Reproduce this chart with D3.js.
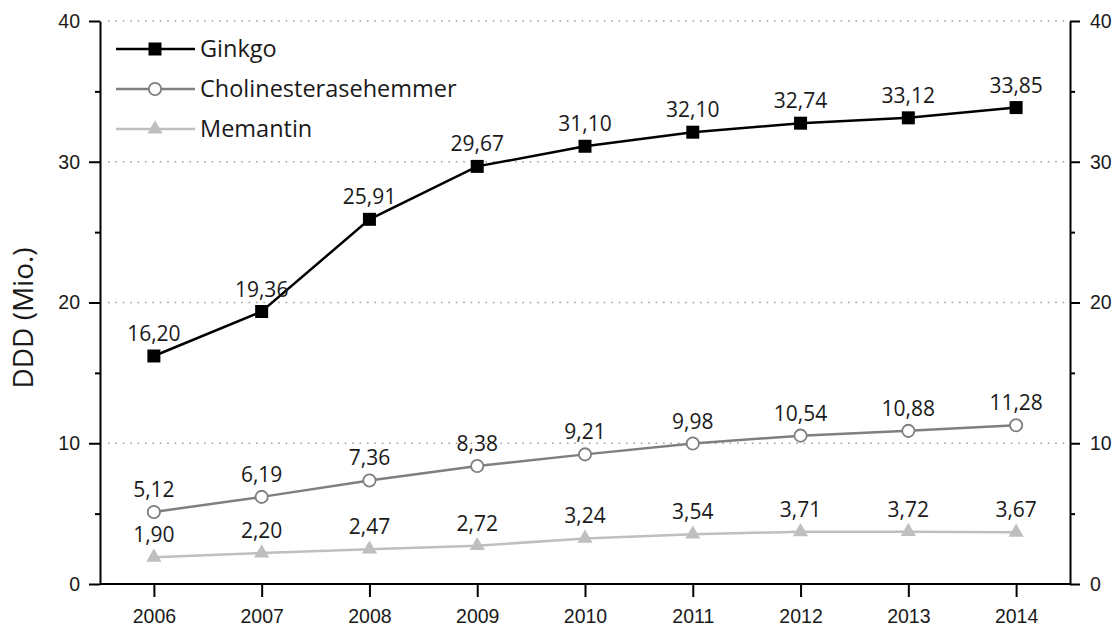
<!DOCTYPE html>
<html>
<head>
<meta charset="utf-8">
<script src="https://cdn.jsdelivr.net/npm/d3@7"></script>
<style>
  html, body { margin: 0; padding: 0; background: #fff; }
  svg { display: block; font-family: "Open Sans", Lato, sans-serif; }
</style>
</head>
<body>
<svg id="chart" width="1118" height="626"></svg>
<script>
// Daily defined doses (millions) per year
const years = ["2006", "2007", "2008", "2009", "2010", "2011", "2012", "2013", "2014"];
const ginkgo = [16.20, 19.36, 25.91, 29.67, 31.10, 32.10, 32.74, 33.12, 33.85];
const cholinesterase = [5.12, 6.19, 7.36, 8.38, 9.21, 9.98, 10.54, 10.88, 11.28];
const memantin = [1.90, 2.20, 2.47, 2.72, 3.24, 3.54, 3.71, 3.72, 3.67];
const majorTicks = [0, 10, 20, 30, 40];
const minorTicks = [5, 15, 25, 35];
const gridTicks = [10, 20, 30, 40];

const series = [
  { name: "Ginkgo", values: ginkgo, color: "#000000", marker: "square" },
  { name: "Cholinesterasehemmer", values: cholinesterase, color: "#7f7f7f", marker: "circle" },
  { name: "Memantin", values: memantin, color: "#bfbfbf", marker: "triangle" }
];

const svg = d3.select("#chart");
const plotLeft = 100, plotRight = 1070, plotTop = 21, plotBottom = 584;

const x = d3.scalePoint().domain(years).range([plotLeft, plotRight]).padding(0.5);
const y = d3.scaleLinear().domain([0, 40]).range([plotBottom, plotTop]);

const fmt = v => d3.format(".2f")(v).replace(".", ",");

// dotted grid lines
svg.append("g").selectAll("line").data(gridTicks).join("line")
  .attr("x1", plotLeft + 8).attr("x2", plotRight)
  .attr("y1", d => y(d)).attr("y2", d => y(d))
  .attr("stroke", "#a0a0a0").attr("stroke-width", 1.6)
  .attr("stroke-dasharray", "1.6,5.8");

// axes
function styleAxis(g) {
  g.select(".domain").attr("stroke", "#000").attr("stroke-width", 2);
  g.selectAll(".tick line").attr("stroke", "#000").attr("stroke-width", 2);
  g.selectAll(".tick text").attr("fill", "#1a1a1a").style("font-size", "19.5px");
}

svg.append("g").attr("transform", `translate(${plotLeft},0)`)
  .call(d3.axisLeft(y).tickValues(majorTicks).tickSize(11).tickSizeOuter(0).tickPadding(9))
  .call(styleAxis);
svg.append("g").attr("transform", `translate(${plotLeft},0)`)
  .call(d3.axisLeft(y).tickValues(minorTicks).tickSize(5).tickFormat("").tickSizeOuter(0))
  .call(g => g.select(".domain").remove())
  .call(g => g.selectAll(".tick line").attr("stroke", "#000").attr("stroke-width", 2));

svg.append("g").attr("transform", `translate(${plotRight},0)`)
  .call(d3.axisRight(y).tickValues(majorTicks).tickSize(10).tickSizeOuter(0).tickPadding(10))
  .call(styleAxis);
svg.append("g").attr("transform", `translate(${plotRight},0)`)
  .call(d3.axisRight(y).tickValues(minorTicks).tickSize(5).tickFormat("").tickSizeOuter(0))
  .call(g => g.select(".domain").remove())
  .call(g => g.selectAll(".tick line").attr("stroke", "#000").attr("stroke-width", 2));

const xAxis = svg.append("g").attr("transform", `translate(0,${plotBottom})`)
  .call(d3.axisBottom(x).tickSize(13).tickSizeOuter(0).tickPadding(12))
  .call(styleAxis);
xAxis.select(".domain").attr("d", `M${plotLeft},0H${plotRight}`);

// y axis title
svg.append("text")
  .attr("transform", `translate(33,318) rotate(-90)`)
  .attr("text-anchor", "middle")
  .attr("fill", "#1a1a1a")
  .style("font-size", "28px")
  .text("DDD (Mio.)");

const symbolFor = {
  square: d3.symbol().type(d3.symbolSquare).size(169),
  circle: d3.symbol().type(d3.symbolCircle).size(118),
  triangle: d3.symbol().type(d3.symbolTriangle).size(100)
};

function drawMarker(g, s) {
  const p = g.append("path").attr("d", symbolFor[s.marker]());
  if (s.marker === "circle") {
    p.attr("fill", "#fff").attr("stroke", s.color).attr("stroke-width", 1.8);
  } else {
    p.attr("fill", s.color);
  }
}

const line = d3.line().x((d, i) => x(years[i])).y(d => y(d));

series.forEach(s => {
  svg.append("path").datum(s.values)
    .attr("d", line).attr("fill", "none")
    .attr("stroke", s.color).attr("stroke-width", 2.5);
  s.values.forEach((v, i) => {
    const g = svg.append("g").attr("transform", `translate(${x(years[i])},${y(v)})`);
    drawMarker(g, s);
  });
  svg.append("g").selectAll("text").data(s.values).join("text")
    .attr("x", (d, i) => x(years[i]))
    .attr("y", d => y(d) - 15)
    .attr("text-anchor", "middle")
    .attr("fill", "#1a1a1a")
    .style("font-size", "21px")
    .text(fmt);
});

// legend
const legend = svg.append("g");
series.forEach((s, i) => {
  const ly = 49 + i * 40;
  const g = legend.append("g").attr("transform", `translate(0,${ly})`);
  g.append("line").attr("x1", 116).attr("x2", 195).attr("y1", 0).attr("y2", 0)
    .attr("stroke", s.color).attr("stroke-width", 2.5);
  const m = g.append("g").attr("transform", "translate(155,0)");
  drawMarker(m, s);
  g.append("text").attr("x", 200).attr("y", 0).attr("dy", "0.35em")
    .attr("fill", "#1a1a1a").style("font-size", "23.5px").text(s.name);
});
</script>
</body>
</html>
